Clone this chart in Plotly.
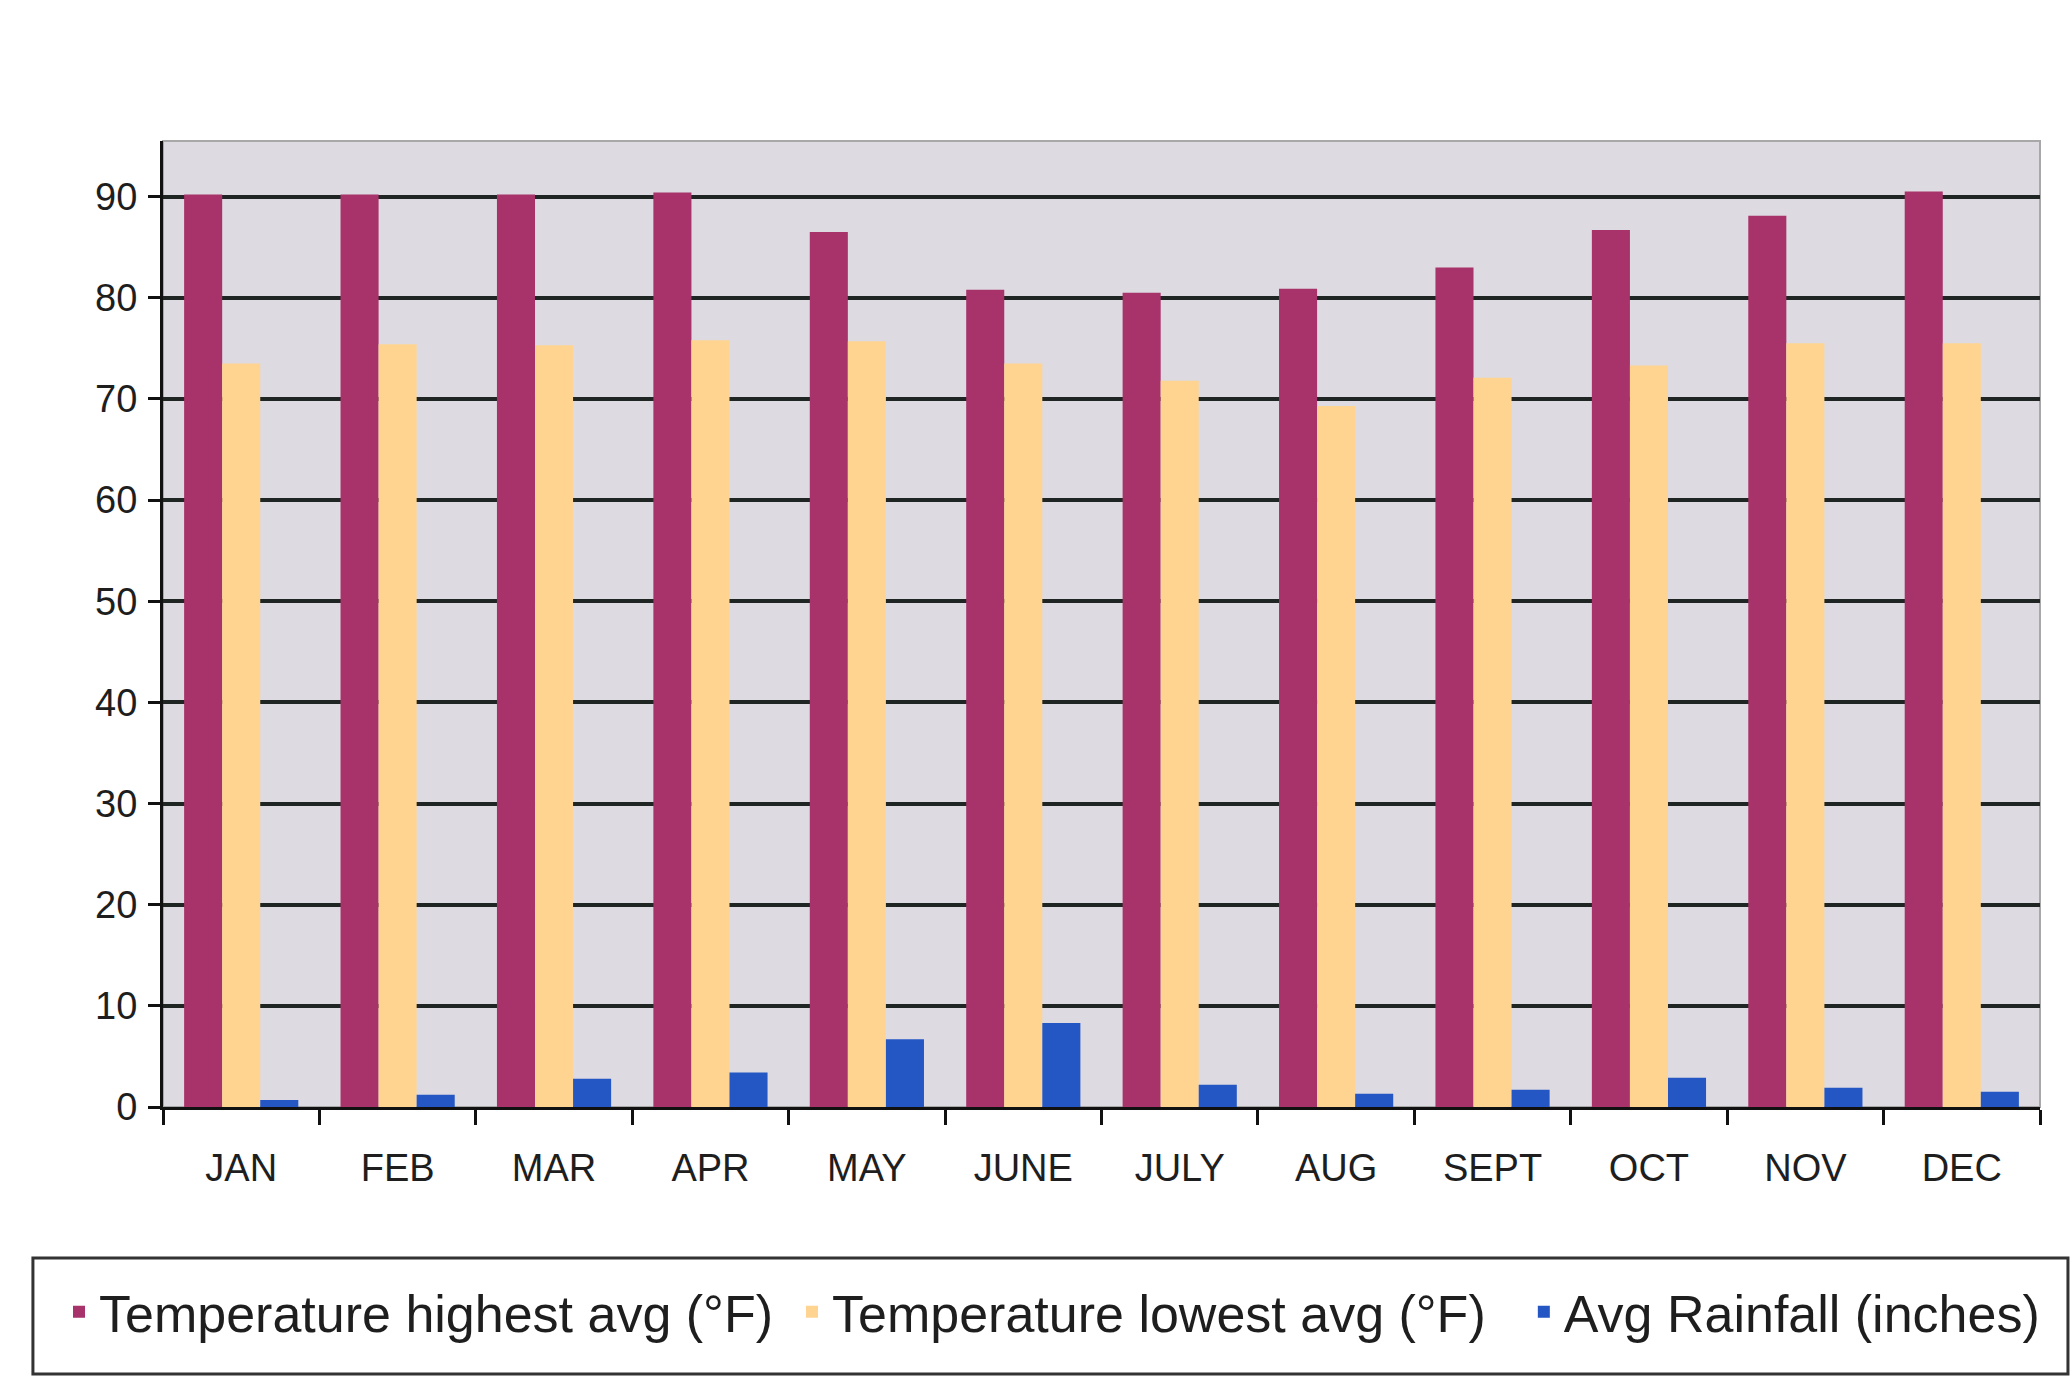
import plotly.graph_objects as go

months = ["JAN", "FEB", "MAR", "APR", "MAY", "JUNE", "JULY", "AUG", "SEPT", "OCT", "NOV", "DEC"]
temp_high = [90.2, 90.2, 90.2, 90.4, 86.5, 80.8, 80.5, 80.9, 83.0, 86.7, 88.1, 90.5]
temp_low = [73.5, 75.4, 75.3, 75.8, 75.7, 73.5, 71.8, 69.3, 72.1, 73.3, 75.5, 75.5]
rainfall = [0.7, 1.2, 2.8, 3.4, 6.7, 8.3, 2.2, 1.3, 1.7, 2.9, 1.9, 1.5]
y_ticks = [0, 10, 20, 30, 40, 50, 60, 70, 80, 90]

series_names = ["Temperature highest avg (°F)", "Temperature lowest avg (°F)", "Avg Rainfall (inches)"]
series_colors = ["#A8326A", "#FFD491", "#2456C4"]
series_legends = ["legend", "legend", "legend2"]

fig = go.Figure()
for name, vals, col, lg in zip(series_names, [temp_high, temp_low, rainfall], series_colors, series_legends):
    fig.add_trace(go.Bar(x=months, y=vals, name=name, legend=lg,
                         marker=dict(color=col, line=dict(width=0))))

font_family = "Liberation Sans, Arial, sans-serif"
legend_font = dict(family=font_family, size=52, color="#1E1E1E")

fig.update_layout(
    width=2072,
    height=1388,
    margin=dict(l=163, r=32, t=141, b=281),
    paper_bgcolor="#FFFFFF",
    plot_bgcolor="#DDDBE1",
    barmode="group",
    bargap=0.27,
    bargroupgap=0,
    font=dict(family=font_family, color="#1E1E1E"),
    showlegend=True,
    legend=dict(
        orientation="h",
        x=-0.0554,
        xanchor="left",
        y=-0.2122,
        yanchor="middle",
        bgcolor="rgba(0,0,0,0)",
        borderwidth=0,
        entrywidth=688,
        entrywidthmode="pixels",
        font=legend_font,
        traceorder="normal",
    ),
    legend2=dict(
        orientation="h",
        x=0.725,
        xanchor="left",
        y=-0.2122,
        yanchor="middle",
        bgcolor="rgba(0,0,0,0)",
        borderwidth=0,
        font=legend_font,
    ),
    xaxis=dict(
        type="category",
        tickson="boundaries",
        ticks="outside",
        ticklen=15,
        tickwidth=3,
        tickcolor="#111111",
        showline=True,
        linewidth=3,
        linecolor="#111111",
        showgrid=False,
        tickfont=dict(family=font_family, size=38, color="#1E1E1E"),
        ticklabelstandoff=25,
    ),
    yaxis=dict(
        range=[0, 95.5],
        tickvals=y_ticks,
        ticks="outside",
        ticklen=12,
        tickwidth=3,
        tickcolor="#111111",
        showline=True,
        linewidth=3,
        linecolor="#111111",
        showgrid=True,
        gridcolor="#1F2522",
        gridwidth=4,
        zeroline=False,
        tickfont=dict(family=font_family, size=38, color="#1E1E1E"),
        ticklabelstandoff=3,
    ),
)

# plot-area frame
fig.add_shape(type="rect", xref="paper", yref="paper", x0=0, x1=1, y0=0, y1=1,
              line=dict(color="#A8A8A8", width=2), layer="below")
# legend frame
fig.add_shape(type="rect", xref="paper", yref="paper", x0=-0.0693, x1=1.0149, y0=-0.2764, y1=-0.1563,
              line=dict(color="#333333", width=3), fillcolor="rgba(0,0,0,0)", layer="above")

fig.write_html(
    "out.html",
    config={"displayModeBar": False},
    post_script="document.body.style.margin='0';document.body.style.overflow='hidden';",
)
